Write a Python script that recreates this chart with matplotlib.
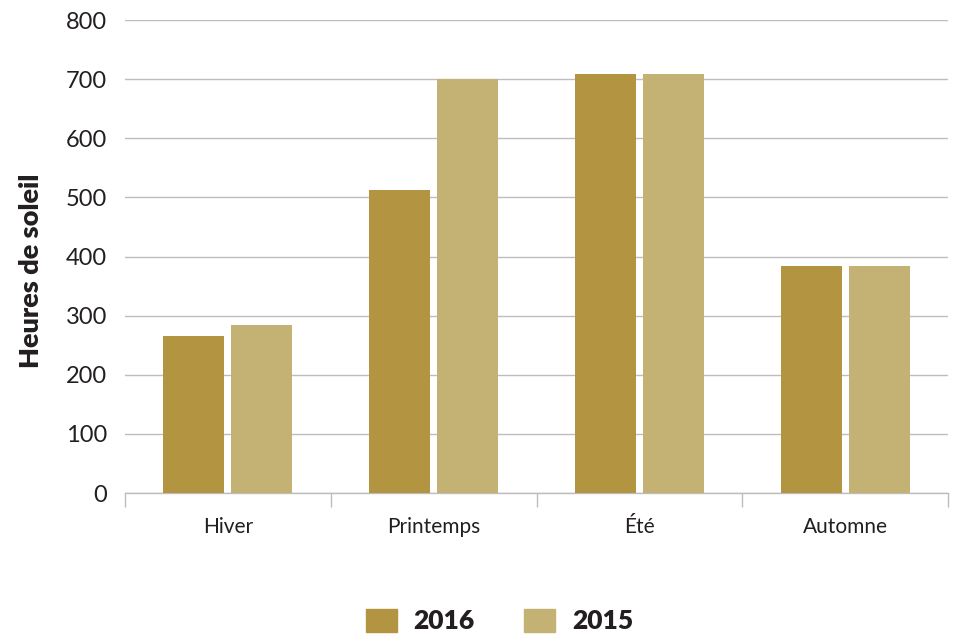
import numpy as np
import matplotlib.pyplot as plt
from matplotlib.patches import Patch

# Data
seasons = ['Hiver', 'Printemps', 'Été', 'Automne']
hours_2016 = [266, 513, 709, 384]
hours_2015 = [284, 700, 709, 384]
y_ticks = [0, 100, 200, 300, 400, 500, 600, 700, 800]

color_2016 = '#B39441'
color_2015 = '#C4B174'

plt.rcParams['font.family'] = ['Lato', 'DejaVu Sans']

fig = plt.figure(figsize=(9.55, 6.35), dpi=100)
ax = fig.add_axes([0.1309, 0.2236, 0.8618, 0.7449])

x = np.arange(len(seasons))
bar_w = 0.2965
gap = 0.034
ax.bar(x - (bar_w + gap) / 2, hours_2016, width=bar_w, color=color_2016, zorder=3)
ax.bar(x + (bar_w + gap) / 2, hours_2015, width=bar_w, color=color_2015, zorder=3)

ax.set_xlim(-0.5, len(seasons) - 0.5)
ax.set_ylim(0, 800)
ax.set_yticks(y_ticks)
ax.set_yticklabels([str(v) for v in y_ticks], fontsize=17, color='#231f20')

# grid lines
ax.grid(axis='y', color='#bdbdbd', linewidth=1, zorder=0)
ax.set_axisbelow(True)

for s in ['top', 'right', 'left']:
    ax.spines[s].set_visible(False)
ax.spines['bottom'].set_color('#bdbdbd')
ax.spines['bottom'].set_linewidth(1)

# category labels centred, tick marks between groups
ax.set_xticks(x)
ax.set_xticklabels(seasons, fontsize=15, color='#231f20')
ax.tick_params(axis='x', which='major', length=0, pad=17)
ax.set_xticks(np.arange(-0.5, len(seasons)), minor=True)
ax.tick_params(axis='x', which='minor', length=10, color='#bdbdbd', width=1)
ax.tick_params(axis='y', length=0, pad=13)

ax.set_ylabel('Heures de soleil', fontsize=19.5, fontweight='heavy', color='#231f20')
ax.yaxis.set_label_coords(-0.0996, 0.47)

handles = [Patch(color=color_2016, label='2016'), Patch(color=color_2015, label='2015')]
leg = fig.legend(handles=handles, loc='lower center', bbox_to_anchor=(0.523, -0.035), ncol=2,
                 frameon=False, handlelength=1.17, handleheight=0.95, columnspacing=1.86,
                 handletextpad=0.64, prop={'size': 19, 'weight': 'heavy'})
for t in leg.get_texts():
    t.set_color('#231f20')

plt.savefig('out.png', dpi=100)
